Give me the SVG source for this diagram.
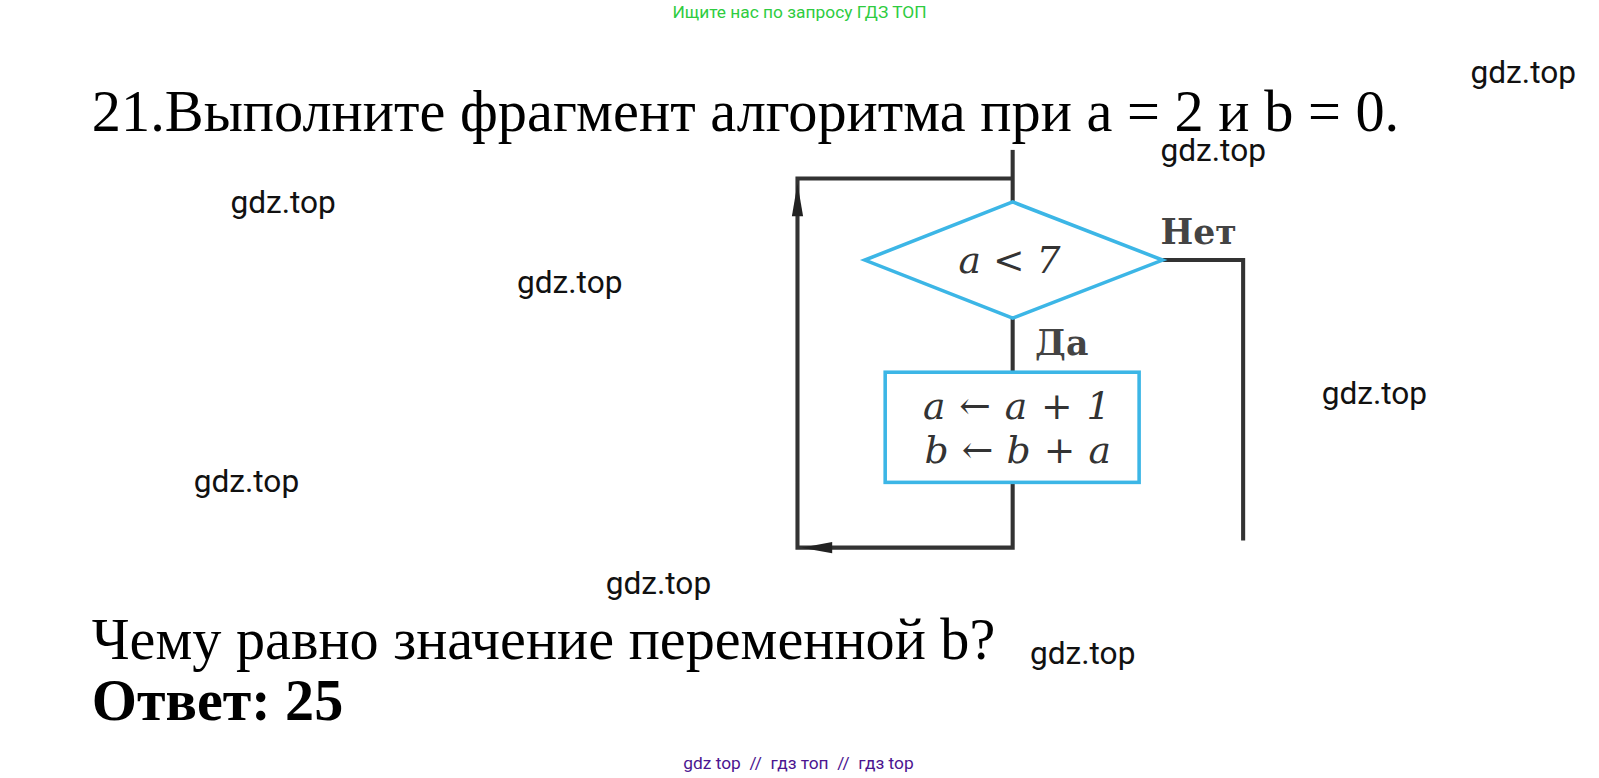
<svg xmlns="http://www.w3.org/2000/svg" width="1599" height="778" viewBox="0 0 1599 778">
<defs>
<style>
.wm{font-family:Roboto,"Liberation Sans",sans-serif;font-size:31px;fill:#111}
.big{font-family:"Liberation Serif","Times New Roman",serif;font-size:57px;fill:#000}
.math{font-family:"DejaVu Serif","Liberation Serif",serif;font-style:italic;font-size:37px;fill:#333}
.lbl{font-family:"DejaVu Serif","Liberation Serif",serif;font-weight:bold;font-size:34px;fill:#444}
.ln{fill:none;stroke:#333;stroke-width:4}
.sh{fill:#fff;stroke:#3cb6e6;stroke-width:3.5}
.ah{fill:#222}
</style>
</defs>
<rect width="1599" height="778" fill="#fff"/>
<g transform="scale(1.0198)">
<text x="784" y="18" text-anchor="middle" font-family="Roboto,'Liberation Sans',sans-serif" font-size="17" fill="#2ecc40">Ищите нас по запросу ГДЗ ТОП</text>
<text x="90" y="128" class="big" textLength="1282" lengthAdjust="spacingAndGlyphs">21.Выполните фрагмент алгоритма при a = 2 и b = 0.</text>
<g id="connectors">
<path class="ln" d="M993,147 V198"/>
<path class="ln" d="M993,175 H782 V537 H993 V473"/>
<path class="ah" d="M782,180 L776.5,212 L787.5,212 Z"/>
<path class="ah" d="M786,537 L816,531.5 L816,542.5 Z"/>
<path class="ln" d="M993,312 V365"/>
<path class="ln" d="M1140,255 H1219 V530"/>
</g>
<g id="decision">
<polygon class="sh" points="993,198 1140,255 993,312 848,255"/>
<text x="990" y="268" class="math" text-anchor="middle" textLength="100">a &lt; 7</text>
</g>
<g id="process">
<rect class="sh" x="868" y="365" width="249" height="108"/>
<text x="997" y="411" class="math" text-anchor="middle" textLength="184">a ← a + 1</text>
<text x="998" y="454" class="math" text-anchor="middle" textLength="183">b ← b + a</text>
</g>
<text x="1138" y="239" class="lbl">Нет</text>
<text x="1015" y="348" class="lbl">Да</text>
<g id="watermarks">
<text x="1442" y="81" class="wm">gdz.top</text>
<text x="1138" y="158" class="wm">gdz.top</text>
<text x="226" y="209" class="wm">gdz.top</text>
<text x="507" y="287" class="wm">gdz.top</text>
<text x="1296" y="396" class="wm">gdz.top</text>
<text x="190" y="482" class="wm">gdz.top</text>
<text x="594" y="582" class="wm">gdz.top</text>
<text x="1010" y="651" class="wm">gdz.top</text>
</g>
<text x="90" y="646" class="big" textLength="886" lengthAdjust="spacingAndGlyphs">Чему равно значение переменной b?</text>
<text x="90" y="706" class="big" font-weight="bold" font-size="54">Ответ: 25</text>
<text x="783" y="754" text-anchor="middle" xml:space="preserve" font-family="Roboto,'Liberation Sans',sans-serif" font-size="17" fill="#4b1590">gdz top  //  гдз топ  //  гдз top</text>
</g>
</svg>
